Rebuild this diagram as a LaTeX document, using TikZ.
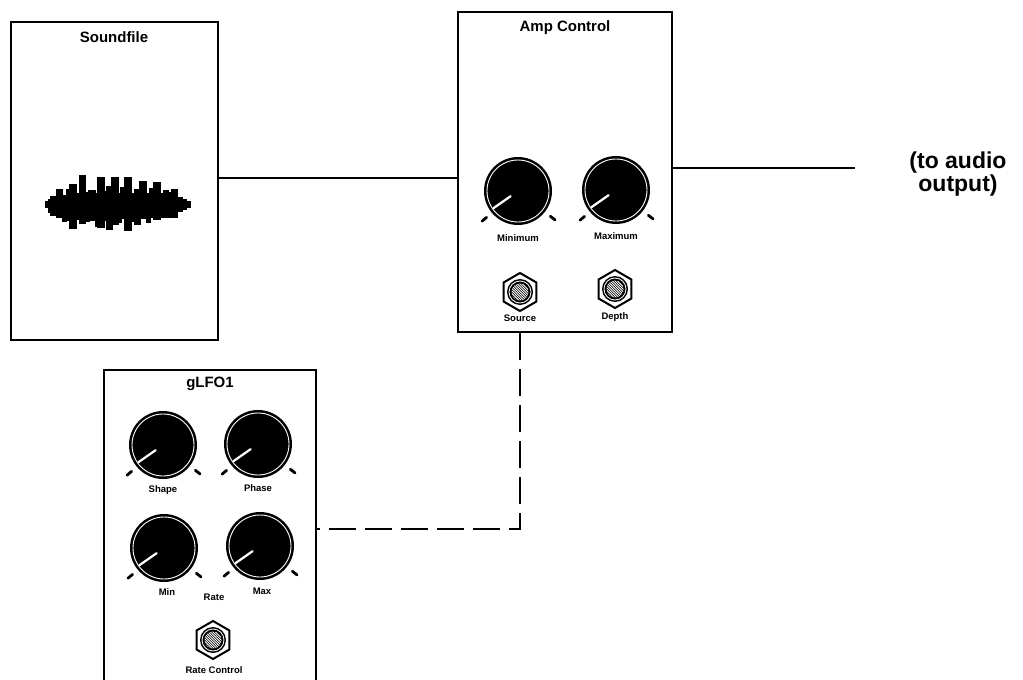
\documentclass[tikz,border=0pt]{standalone}
\usepackage{fontspec}
\setmainfont{Liberation Sans}
\usetikzlibrary{shapes.geometric}
\begin{document}
\begin{tikzpicture}[x=1pt,y=-1pt,
  panel/.style={draw, line width=2.2pt, inner sep=0pt},
  title/.style={font=\bfseries\fontsize{15}{17}\selectfont, inner sep=0pt},
  lbl/.style={font=\bfseries\fontsize{9.5}{11}\selectfont, inner sep=0pt},
  wire/.style={line width=2.2pt},
  dwire/.style={line width=2.8pt, dash pattern=on 27pt off 9pt},
  knobface/.style={circle, fill=black, minimum size=68pt, inner sep=0pt},
  jackhex/.style={regular polygon, regular polygon sides=6, shape border rotate=30, draw, line width=2pt, minimum size=38pt, inner sep=0pt, fill=white},
  tickmark/.style={line width=2.8pt, line cap=round},
  knob/.pic={
    \node[knobface] (-c) at (0,0) {};
    \draw[white, line width=0.9pt] (0,0) circle (31pt);
    \draw[white, line width=2.2pt, line cap=round] (-145:9pt) -- (-145:30pt);
    \draw[tickmark] (-140:41pt) -- (-140:47pt);
    \draw[tickmark] (-38:41pt) -- (-38:47pt);
  },
  jack/.pic={
    \node[jackhex] (-h) at (0,0) {};
    \fill (0,0) circle (13pt);
    \draw[white, line width=0.8pt] (0,0) circle (11pt);
    \begin{scope}
      \clip (0,0) circle (8.5pt);
      \foreach \d in {-12,-9.5,...,12}
        \draw[white, line width=0.9pt] (\d pt - 10pt, 10pt) -- (\d pt + 10pt, -10pt);
    \end{scope}
  }
]
\useasboundingbox[fill=white] (0,0) rectangle (1023,680);

% panels
\node[panel, minimum width=207pt, minimum height=318pt] (sf) at (114.5,181) {};
\node[panel, minimum width=214pt, minimum height=320pt] (amp) at (565,172) {};
\node[panel, minimum width=212pt, minimum height=316pt] (lfo) at (210,528) {};

% titles
\node[title] (tsf) at (114,37) {Soundfile};
\node[title] (tamp) at (565,28) {Amp Control};
\node[title] (tlfo) at (210,384) {gLFO1};

% waveform
\foreach \a/\b/\t/\u in {45/51/201/208, 48/54/199/213, 53/58/196/215, 56/63/189/218,
  62/67/195/222, 66/71/189/221, 69/77/184/229, 76/81/193/220, 79/86/175/224,
  85/90/192/222, 88/96/190/221, 95/99/194/227, 97/105/177/228, 104/108/191/221,
  106/113/186/230, 111/119/177/225, 118/122/193/223, 120/126/187/219,
  124/132/177/231, 131/136/195/222, 134/141/189/225, 139/147/181/219,
  146/151/194/223, 149/155/188/217, 153/161/182/220, 160/165/195/215,
  163/169/190/218, 168/173/192/214, 171/178/189/213, 177/183/197/212,
  182/187/199/210, 186/191/201/208}
  \fill (\a,\t) rectangle (\b,\u);
\fill (50,196) rectangle (70,216);
\fill (70,193) rectangle (178,218);

% Amp Control
\pic (kmin) at (518,191) {knob};
\pic (kmax) at (616,190) {knob};
\node[lbl] (lmin) at (518,238) {Minimum};
\node[lbl] (lmax) at (616,236) {Maximum};
\pic (jsrc) at (520,292) {jack};
\pic (jdep) at (615,289) {jack};
\node[lbl] (lsrc) at (520,318) {Source};
\node[lbl] (ldep) at (615,317) {Depth};

% gLFO1
\pic (kshape) at (163,445) {knob};
\pic (kphase) at (258,444) {knob};
\node[lbl] (lshape) at (163,490) {Shape};
\node[lbl] (lphase) at (258,488) {Phase};
\pic (kmn) at (164,548) {knob};
\pic (kmx) at (260,546) {knob};
\node[lbl] (lmn) at (167,592) {Min};
\node[lbl] (lrate) at (214,597) {Rate};
\node[lbl] (lmx) at (262,591) {Max};
\pic (jrate) at (213,640) {jack};
\node[lbl] (lrc) at (214,670) {Rate Control};

% connectors
\coordinate (out) at (855,168);
\coordinate (bend) at (520,529);
\draw[wire] (sf.east |- 0,178) -- (amp.west |- 0,178);
\draw[wire] (amp.east |- out) -- (out);
\draw[dwire] (amp.south -| bend) -- (bend) -- (lfo.east |- bend);

\node[font=\bfseries\fontsize{23}{23}\selectfont, align=center, inner sep=0pt] (outtxt) at (958,174) {(to audio\\output)};
\end{tikzpicture}
\end{document}
